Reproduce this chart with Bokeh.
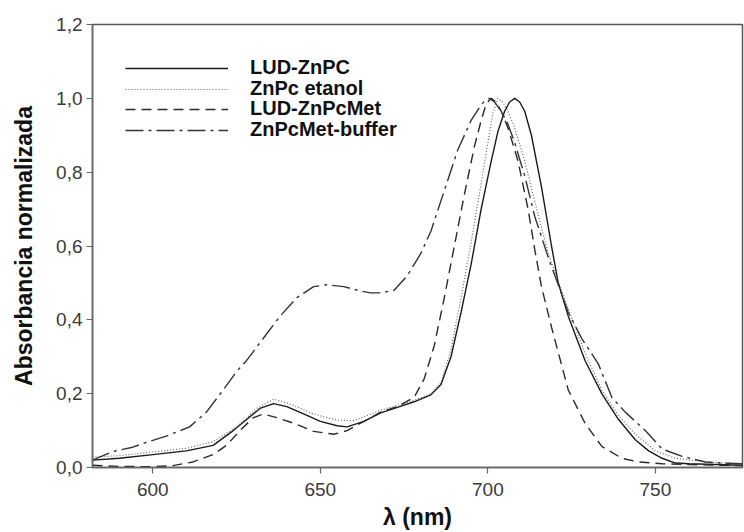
from bokeh.plotting import figure
from bokeh.models import Range1d, FixedTicker, CustomJSTickFormatter, Legend, LegendItem
from bokeh.embed import file_html
from bokeh.resources import INLINE

# LUD-ZnPC (solid)
wl_lud = [582, 590, 600, 610, 618, 624, 628, 632, 636, 640, 645, 650, 655, 658, 663, 668, 673, 678,
          683, 686, 689, 692, 695, 698, 701, 703, 705, 706.5, 708, 709.5, 711, 713, 716, 719, 721,
          724, 729, 734, 739, 744, 748, 752, 756, 760, 768, 776]
ab_lud = [0.02, 0.025, 0.035, 0.045, 0.06, 0.1, 0.13, 0.16, 0.173, 0.165, 0.145, 0.125, 0.113, 0.11,
          0.125, 0.148, 0.163, 0.178, 0.197, 0.225, 0.3, 0.42, 0.55, 0.7, 0.83, 0.91, 0.965, 0.99,
          1.0, 0.99, 0.965, 0.9, 0.76, 0.6, 0.5, 0.41, 0.29, 0.2, 0.13, 0.075, 0.045, 0.025, 0.012,
          0.01, 0.008, 0.006]

# ZnPc etanol (dotted)
wl_eta = [582, 590, 600, 610, 618, 625, 631, 636, 641, 648, 655, 660, 668, 678, 683, 686, 689, 692,
          695, 698, 700, 701.5, 703, 704.5, 706, 708, 711, 714, 718, 724, 729, 734, 739, 744, 750,
          756, 765, 776]
ab_eta = [0.028, 0.032, 0.042, 0.052, 0.07, 0.11, 0.16, 0.185, 0.172, 0.145, 0.128, 0.127, 0.155,
          0.182, 0.2, 0.23, 0.32, 0.46, 0.61, 0.77, 0.88, 0.96, 1.0, 0.99, 0.965, 0.92, 0.83, 0.72,
          0.58, 0.43, 0.31, 0.21, 0.14, 0.09, 0.045, 0.025, 0.015, 0.01]

# LUD-ZnPcMet (dashed)
wl_met = [582, 590, 600, 606, 612, 618, 622, 626, 630, 633, 637, 642, 648, 654, 658, 663, 668, 673,
          678, 681, 684, 687, 690, 693, 696, 698, 699.5, 701, 702.5, 704, 706, 709, 712, 714, 716,
          719, 724, 729, 734, 740, 745, 752, 760, 776]
ab_met = [0.006, 0.003, 0.002, 0.005, 0.015, 0.035, 0.06, 0.1, 0.135, 0.145, 0.135, 0.12, 0.098,
          0.09, 0.1, 0.125, 0.15, 0.165, 0.19, 0.24, 0.33, 0.46, 0.6, 0.74, 0.87, 0.94, 0.985, 1.0,
          0.99, 0.965, 0.92, 0.83, 0.7, 0.59, 0.49, 0.38, 0.21, 0.12, 0.057, 0.025, 0.015, 0.01,
          0.008, 0.005]

# ZnPcMet-buffer (dash-dot)
wl_buf = [582, 588, 594, 598, 604, 611, 616, 621, 625, 628, 633, 638, 643, 648, 652, 657, 662, 665,
          668, 672, 676, 680, 683, 687, 691, 695, 697.5, 699, 700.5, 702, 704, 706, 708, 711, 714,
          718, 724, 728, 733, 737, 741, 747, 752, 758, 765, 770, 776]
ab_buf = [0.02, 0.043, 0.055, 0.068, 0.085, 0.11, 0.15, 0.21, 0.26, 0.29, 0.35, 0.41, 0.46, 0.49,
          0.495, 0.49, 0.478, 0.473, 0.473, 0.48, 0.52, 0.58, 0.64, 0.75, 0.86, 0.94, 0.975, 0.993,
          1.0, 0.99, 0.965, 0.93, 0.88, 0.79, 0.68, 0.57, 0.42, 0.35, 0.28, 0.19, 0.15, 0.1, 0.05,
          0.03, 0.015, 0.012, 0.01]

labels = ["LUD-ZnPC", "ZnPc etanol", "LUD-ZnPcMet", "ZnPcMet-buffer"]
x_ticks = [600, 650, 700, 750]
y_ticks = [0.0, 0.2, 0.4, 0.6, 0.8, 1.0, 1.2]

FONT = "Liberation Sans"

p = figure(width=744, height=532, output_backend="svg", toolbar_location=None,
           x_range=Range1d(582, 776), y_range=Range1d(0, 1.2),
           min_border_left=92, min_border_right=2, min_border_top=24, min_border_bottom=64)
p.background_fill_color = "white"
p.border_fill_color = "white"
p.outline_line_color = "#555555"
p.outline_line_width = 1.5
p.xgrid.visible = False
p.ygrid.visible = False

r1 = p.line(wl_lud, ab_lud, line_color="#1a1a1a", line_width=1.4)
r2 = p.line(wl_eta, ab_eta, line_color="#666666", line_width=1.2, line_dash="1 2")
r3 = p.line(wl_met, ab_met, line_color="#2a2a2a", line_width=1.4, line_dash="10 6")
r4 = p.line(wl_buf, ab_buf, line_color="#333333", line_width=1.4, line_dash="18 5 3 5")

for ax in (p.xaxis[0], p.yaxis[0]):
    ax.axis_line_color = "#666666"
    ax.axis_line_width = 1.5
    ax.major_tick_line_color = "#666666"
    ax.major_tick_line_width = 1.2
    ax.major_tick_in = 0
    ax.major_tick_out = 6
    ax.minor_tick_line_color = None
    ax.major_label_text_font = FONT
    ax.major_label_text_font_size = "19px"
    ax.major_label_text_color = "#3a3a3a"
    ax.axis_label_text_font = FONT
    ax.axis_label_text_font_size = "23px"
    ax.axis_label_text_font_style = "bold"
    ax.axis_label_text_color = "#111111"

p.xaxis.ticker = FixedTicker(ticks=x_ticks)
p.yaxis.ticker = FixedTicker(ticks=y_ticks)
p.yaxis.formatter = CustomJSTickFormatter(code="return tick.toFixed(1).replace('.', ',');")
p.xaxis.axis_label = "λ (nm)"
p.yaxis.axis_label = "Absorbancia normalizada"
p.xaxis.major_label_standoff = 9
p.yaxis.major_label_standoff = 4
p.xaxis.axis_label_standoff = 5
p.yaxis.axis_label_standoff = 16

renderers = [r1, r2, r3, r4]
legend_y = [388, 367, 347, 326]
for lab, rend, ly in zip(labels, renderers, legend_y):
    lg = Legend(items=[LegendItem(label=lab, renderers=[rend])], location=(33, ly))
    lg.border_line_color = None
    lg.background_fill_alpha = 0
    lg.padding = 0
    lg.margin = 0
    lg.spacing = 0
    lg.glyph_width = 103
    lg.glyph_height = 20
    lg.label_height = 20
    lg.label_standoff = 22
    lg.label_text_font = FONT
    lg.label_text_font_size = "20px"
    lg.label_text_font_style = "bold"
    lg.label_text_color = "#111111"
    p.add_layout(lg)

open("out.html", "w").write(file_html(p, INLINE))
